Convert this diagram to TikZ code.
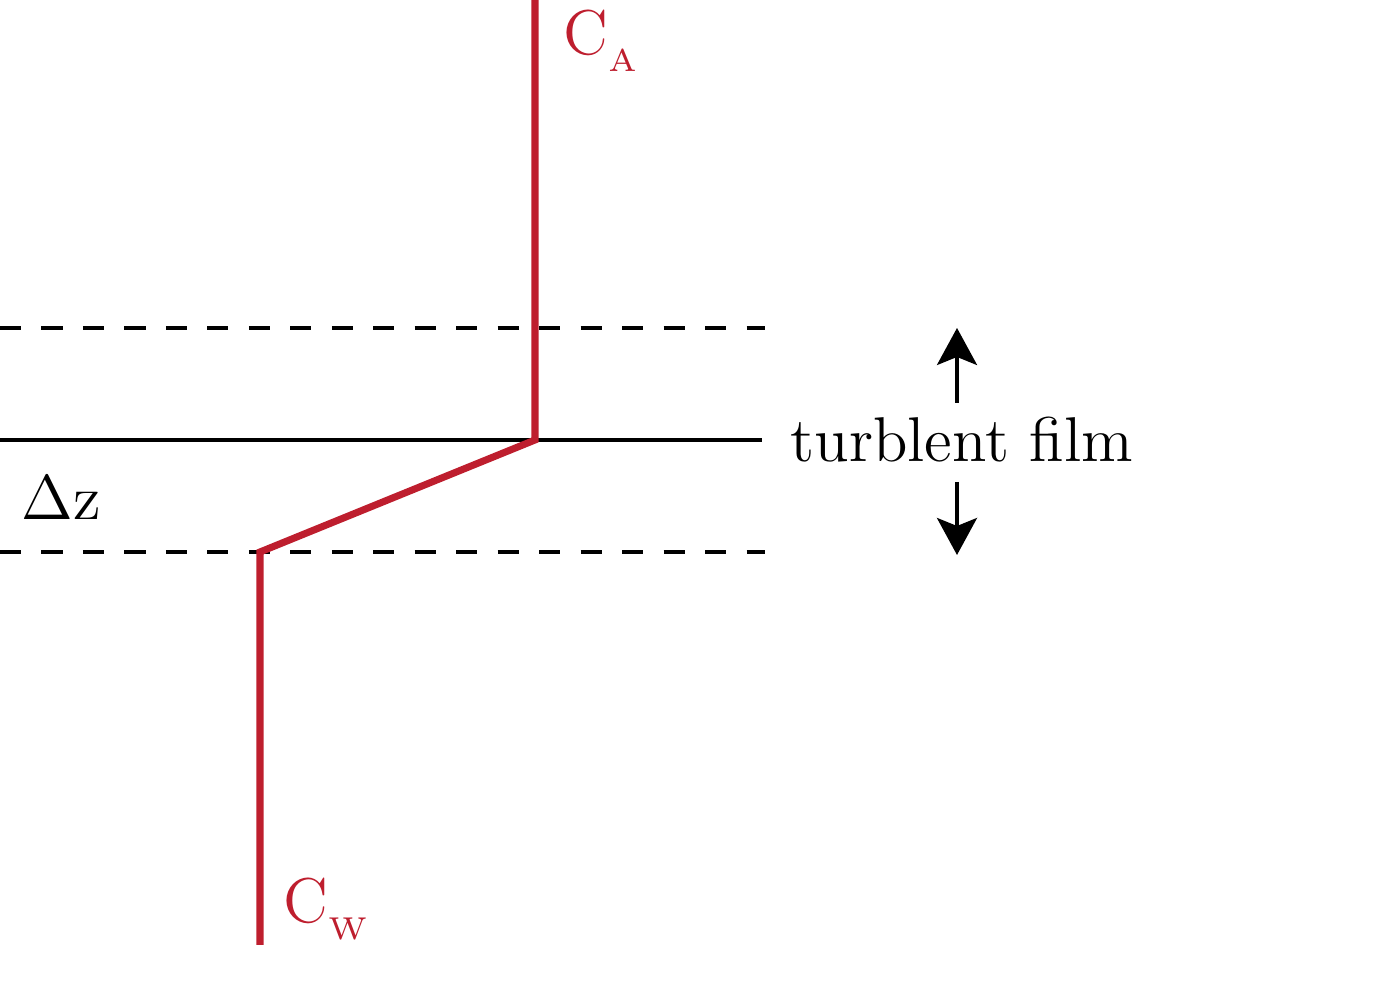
\documentclass[tikz,border=0pt]{standalone}
\usetikzlibrary{arrows.meta}
\definecolor{conc}{RGB}{190,30,46}
\newcommand{\bigtxt}[1]{\scalebox{1.5}{\large #1}}
\begin{document}
\begin{tikzpicture}[>={Stealth[length=3.7mm, width=4mm, inset=0.8mm]},
      layer/.style={black, line width=1pt},
      edge/.style={layer, dash pattern=on 6pt off 5.8pt},
      profile/.style={conc, line width=2pt},
      lbl/.style={inner sep=0pt, anchor=base west},
      conclbl/.style={lbl, text=conc}]
    \useasboundingbox (0,0) rectangle (13.8,9.85);
    % film boundaries
    \coordinate (top0) at (0,6.57);  \coordinate (top1) at (7.65,6.57);
    \coordinate (mid0) at (0,5.45);  \coordinate (mid1) at (7.62,5.45);
    \coordinate (bot0) at (0,4.33);  \coordinate (bot1) at (7.65,4.33);
    \draw[edge] (top0) -- (top1);
    \draw[layer] (mid0) -- (mid1);
    \draw[edge] (bot0) -- (bot1);
    % concentration profile
    \coordinate (ca)   at (5.35,9.85);
    \coordinate (knee) at (5.35,5.45);
    \coordinate (foot) at (2.60,4.33);
    \coordinate (cw)   at (2.60,0.40);
    \draw[profile] (ca) -- (knee) -- (foot) -- (cw);
    \node[conclbl] (caL) at (5.63,9.30) {\bigtxt{$\mathrm{C}_{_\mathrm{A}}$}};
    \node[conclbl] (cwL) at (2.83,0.62) {\bigtxt{$\mathrm{C}_{_\mathrm{W}}$}};
    \node[lbl] (dz) at (0.21,4.65) {\bigtxt{$\Delta\mathrm{z}$}};
    % film label
    \node[lbl] (film) at (7.90,5.23) {\bigtxt{turblent film}};
    \coordinate (upbase) at (9.57,5.82);  \coordinate (uptip) at (9.57,6.57);
    \coordinate (dnbase) at (9.57,5.03);  \coordinate (dntip) at (9.57,4.30);
    \draw[layer, ->] (upbase) -- (uptip);
    \draw[layer, ->] (dnbase) -- (dntip);
  \end{tikzpicture}
\end{document}
